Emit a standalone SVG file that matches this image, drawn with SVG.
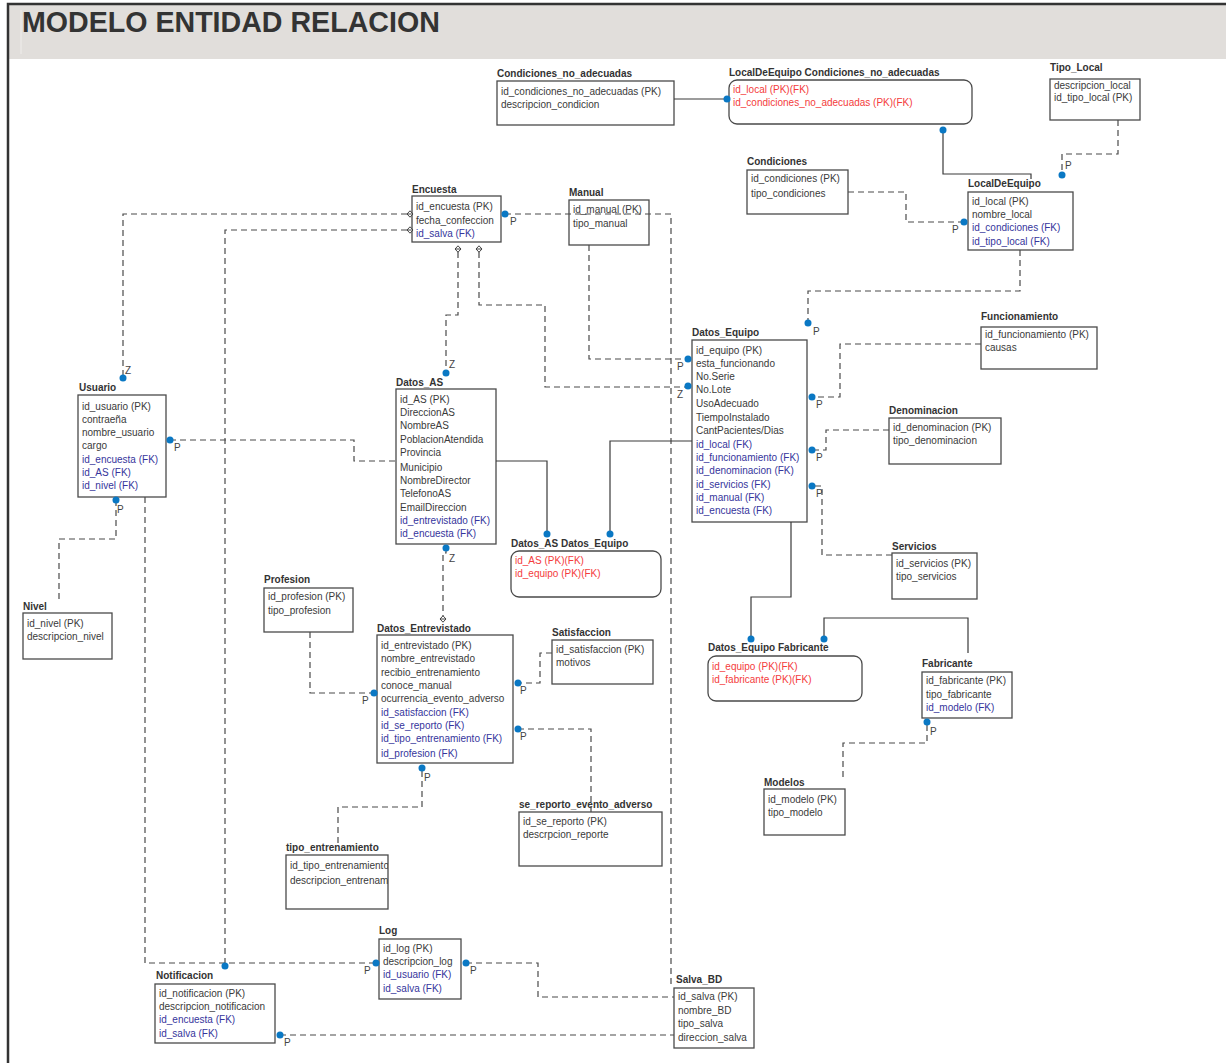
<svg xmlns="http://www.w3.org/2000/svg" width="1226" height="1063" viewBox="0 0 1226 1063">
  <style>
    text { font-family: "Liberation Sans", Arial, sans-serif; font-size: 10px; fill: #3a3a3a; }
    .ttl { font-weight: bold; fill: #333; }
    .fk { fill: #35359c; }
    .pkfk { fill: #f43c3c; }
    .lbl { fill: #444; }
    .box { fill: #fff; stroke: #4a4a4a; stroke-width: 1.3; }
    .dash { fill: none; stroke: #4a4a4a; stroke-width: 1.2; stroke-dasharray: 6 4; }
    .solid { fill: none; stroke: #3a3a3a; stroke-width: 1.2; }
    .dot { fill: #0a78c4; }
    .head { font-size: 28.6px; font-weight: bold; fill: #333; }
  </style>
  <defs>
    <g id="dia"><path d="M0,-3.2 L3,0 L0,3.2 L-3,0Z M-3,0 H3" fill="#fff" stroke="#444" stroke-width="1"/></g>
    <clipPath id="clipTE"><rect x="286" y="855" width="102" height="54"/></clipPath>
  </defs>

  <!-- page background and header band -->
  <rect x="0" y="0" width="1226" height="1063" fill="#fff"/>
  <rect x="8" y="4" width="1218" height="55" fill="#e1dedb"/>
  <line x1="21" y1="10" x2="21" y2="54" stroke="#efedeb" stroke-width="1"/>
  <path d="M8,1063 V4 H1226" fill="none" stroke="#333" stroke-width="2.5"/>
  <text class="head" x="22" y="32">MODELO ENTIDAD RELACION</text>

  <g id="Condiciones_no_adecuadas">
    <text class="ttl" x="497" y="77">Condiciones_no_adecuadas</text>
    <rect class="box" x="497" y="81" width="177" height="44"/>
    <text x="501" y="95">id_condiciones_no_adecuadas (PK)</text>
    <text x="501" y="108">descripcion_condicion</text>
  </g>

  <g id="LocalDeEquipo_Condiciones_no_adecuadas">
    <text class="ttl" x="729" y="76">LocalDeEquipo Condiciones_no_adecuadas</text>
    <rect class="box" x="729" y="80" width="243" height="44" rx="8"/>
    <text class="pkfk" x="733" y="93">id_local (PK)(FK)</text>
    <text class="pkfk" x="733" y="106">id_condiciones_no_adecuadas (PK)(FK)</text>
  </g>

  <g id="Tipo_Local">
    <text class="ttl" x="1050" y="71">Tipo_Local</text>
    <rect class="box" x="1050" y="79" width="90" height="41"/>
    <text x="1054" y="89">descripcion_local</text>
    <text x="1054" y="101">id_tipo_local (PK)</text>
  </g>

  <g id="Condiciones">
    <text class="ttl" x="747" y="165">Condiciones</text>
    <rect class="box" x="747" y="170" width="101" height="44"/>
    <text x="751" y="182">id_condiciones (PK)</text>
    <text x="751" y="197">tipo_condiciones</text>
  </g>

  <g id="LocalDeEquipo">
    <text class="ttl" x="968" y="187">LocalDeEquipo</text>
    <rect class="box" x="968" y="192" width="105" height="58"/>
    <text x="972" y="205">id_local (PK)</text>
    <text x="972" y="218">nombre_local</text>
    <text class="fk" x="972" y="231">id_condiciones (FK)</text>
    <text class="fk" x="972" y="245">id_tipo_local (FK)</text>
  </g>

  <g id="Encuesta">
    <text class="ttl" x="412" y="193">Encuesta</text>
    <rect class="box" x="412" y="196" width="89" height="46"/>
    <text x="416" y="210">id_encuesta (PK)</text>
    <text x="416" y="224">fecha_confeccion</text>
    <text class="fk" x="416" y="237">id_salva (FK)</text>
  </g>

  <g id="Manual">
    <text class="ttl" x="569" y="196">Manual</text>
    <rect class="box" x="569" y="200" width="80" height="45"/>
    <text x="573" y="213">id_manual (PK)</text>
    <text x="573" y="227">tipo_manual</text>
  </g>

  <g id="Usuario">
    <text class="ttl" x="79" y="391">Usuario</text>
    <rect class="box" x="78" y="395" width="88" height="102"/>
    <text x="82" y="410">id_usuario (PK)</text>
    <text x="82" y="423">contraeña</text>
    <text x="82" y="436">nombre_usuario</text>
    <text x="82" y="449">cargo</text>
    <text class="fk" x="82" y="463">id_encuesta (FK)</text>
    <text class="fk" x="82" y="476">id_AS (FK)</text>
    <text class="fk" x="82" y="489">id_nivel (FK)</text>
  </g>

  <g id="Datos_AS">
    <text class="ttl" x="396" y="386">Datos_AS</text>
    <rect class="box" x="396" y="389" width="100" height="155"/>
    <text x="400" y="403">id_AS (PK)</text>
    <text x="400" y="416">DireccionAS</text>
    <text x="400" y="429">NombreAS</text>
    <text x="400" y="443">PoblacionAtendida</text>
    <text x="400" y="456">Provincia</text>
    <text x="400" y="471">Municipio</text>
    <text x="400" y="484">NombreDirector</text>
    <text x="400" y="497">TelefonoAS</text>
    <text x="400" y="511">EmailDireccion</text>
    <text class="fk" x="400" y="524">id_entrevistado (FK)</text>
    <text class="fk" x="400" y="537">id_encuesta (FK)</text>
  </g>

  <g id="Datos_AS_Datos_Equipo">
    <text class="ttl" x="511" y="547">Datos_AS Datos_Equipo</text>
    <rect class="box" x="511" y="551" width="150" height="46" rx="8"/>
    <text class="pkfk" x="515" y="564">id_AS (PK)(FK)</text>
    <text class="pkfk" x="515" y="577">id_equipo (PK)(FK)</text>
  </g>

  <g id="Datos_Equipo">
    <text class="ttl" x="692" y="336">Datos_Equipo</text>
    <rect class="box" x="692" y="340" width="115" height="182"/>
    <text x="696" y="354">id_equipo (PK)</text>
    <text x="696" y="367">esta_funcionando</text>
    <text x="696" y="380">No.Serie</text>
    <text x="696" y="393">No.Lote</text>
    <text x="696" y="407">UsoAdecuado</text>
    <text x="696" y="421">TiempoInstalado</text>
    <text x="696" y="434">CantPacientes/Dias</text>
    <text class="fk" x="696" y="448">id_local (FK)</text>
    <text class="fk" x="696" y="461">id_funcionamiento (FK)</text>
    <text class="fk" x="696" y="474">id_denominacion (FK)</text>
    <text class="fk" x="696" y="488">id_servicios (FK)</text>
    <text class="fk" x="696" y="501">id_manual (FK)</text>
    <text class="fk" x="696" y="514">id_encuesta (FK)</text>
  </g>

  <g id="Funcionamiento">
    <text class="ttl" x="981" y="320">Funcionamiento</text>
    <rect class="box" x="981" y="327" width="116" height="42"/>
    <text x="985" y="338">id_funcionamiento (PK)</text>
    <text x="985" y="351">causas</text>
  </g>

  <g id="Denominacion">
    <text class="ttl" x="889" y="414">Denominacion</text>
    <rect class="box" x="889" y="418" width="112" height="46"/>
    <text x="893" y="431">id_denominacion (PK)</text>
    <text x="893" y="444">tipo_denominacion</text>
  </g>

  <g id="Servicios">
    <text class="ttl" x="892" y="550">Servicios</text>
    <rect class="box" x="892" y="553" width="85" height="46"/>
    <text x="896" y="567">id_servicios (PK)</text>
    <text x="896" y="580">tipo_servicios</text>
  </g>

  <g id="Datos_Equipo_Fabricante">
    <text class="ttl" x="708" y="651">Datos_Equipo Fabricante</text>
    <rect class="box" x="708" y="656" width="154" height="45" rx="8"/>
    <text class="pkfk" x="712" y="670">id_equipo (PK)(FK)</text>
    <text class="pkfk" x="712" y="683">id_fabricante (PK)(FK)</text>
  </g>

  <g id="Fabricante">
    <text class="ttl" x="922" y="667">Fabricante</text>
    <rect class="box" x="922" y="672" width="90" height="46"/>
    <text x="926" y="684">id_fabricante (PK)</text>
    <text x="926" y="698">tipo_fabricante</text>
    <text class="fk" x="926" y="711">id_modelo (FK)</text>
  </g>

  <g id="Modelos">
    <text class="ttl" x="764" y="786">Modelos</text>
    <rect class="box" x="764" y="789" width="81" height="46"/>
    <text x="768" y="803">id_modelo (PK)</text>
    <text x="768" y="816">tipo_modelo</text>
  </g>

  <g id="Nivel">
    <text class="ttl" x="23" y="610">Nivel</text>
    <rect class="box" x="23" y="613" width="89" height="46"/>
    <text x="27" y="627">id_nivel (PK)</text>
    <text x="27" y="640">descripcion_nivel</text>
  </g>

  <g id="Profesion">
    <text class="ttl" x="264" y="583">Profesion</text>
    <rect class="box" x="264" y="588" width="89" height="44"/>
    <text x="268" y="600">id_profesion (PK)</text>
    <text x="268" y="614">tipo_profesion</text>
  </g>

  <g id="Datos_Entrevistado">
    <text class="ttl" x="377" y="632">Datos_Entrevistado</text>
    <rect class="box" x="377" y="635" width="136" height="128"/>
    <text x="381" y="649">id_entrevistado (PK)</text>
    <text x="381" y="662">nombre_entrevistado</text>
    <text x="381" y="676">recibio_entrenamiento</text>
    <text x="381" y="689">conoce_manual</text>
    <text x="381" y="702">ocurrencia_evento_adverso</text>
    <text class="fk" x="381" y="716">id_satisfaccion (FK)</text>
    <text class="fk" x="381" y="729">id_se_reporto (FK)</text>
    <text class="fk" x="381" y="742">id_tipo_entrenamiento (FK)</text>
    <text class="fk" x="381" y="757">id_profesion (FK)</text>
  </g>

  <g id="Satisfaccion">
    <text class="ttl" x="552" y="636">Satisfaccion</text>
    <rect class="box" x="552" y="640" width="101" height="44"/>
    <text x="556" y="653">id_satisfaccion (PK)</text>
    <text x="556" y="666">motivos</text>
  </g>

  <g id="se_reporto_evento_adverso">
    <text class="ttl" x="519" y="808">se_reporto_evento_adverso</text>
    <rect class="box" x="519" y="812" width="143" height="54"/>
    <text x="523" y="825">id_se_reporto (PK)</text>
    <text x="523" y="838">descrpcion_reporte</text>
  </g>

  <g id="tipo_entrenamiento">
    <text class="ttl" x="286" y="851">tipo_entrenamiento</text>
    <rect class="box" x="286" y="855" width="102" height="54"/>
    <g clip-path="url(#clipTE)">
      <text x="290" y="869">id_tipo_entrenamiento</text>
      <text x="290" y="884">descripcion_entrenamiento</text>
    </g>
  </g>

  <g id="Log">
    <text class="ttl" x="379" y="934">Log</text>
    <rect class="box" x="379" y="939" width="82" height="60"/>
    <text x="383" y="952">id_log (PK)</text>
    <text x="383" y="965">descripcion_log</text>
    <text class="fk" x="383" y="978">id_usuario (FK)</text>
    <text class="fk" x="383" y="992">id_salva (FK)</text>
  </g>

  <g id="Notificacion">
    <text class="ttl" x="156" y="979">Notificacion</text>
    <rect class="box" x="155" y="984" width="120" height="59"/>
    <text x="159" y="997">id_notificacion (PK)</text>
    <text x="159" y="1010">descripcion_notificacion</text>
    <text class="fk" x="159" y="1023">id_encuesta (FK)</text>
    <text class="fk" x="159" y="1037">id_salva (FK)</text>
  </g>

  <g id="Salva_BD">
    <text class="ttl" x="676" y="983">Salva_BD</text>
    <rect class="box" x="674" y="988" width="80" height="60"/>
    <text x="678" y="1000">id_salva (PK)</text>
    <text x="678" y="1014">nombre_BD</text>
    <text x="678" y="1027">tipo_salva</text>
    <text x="678" y="1041">direccion_salva</text>
  </g>

  <!-- relationship lines, drawn over the tables -->
  <g id="connectors">
    <path class="solid" d="M674,99 H727"/>
    <path class="solid" d="M943,130 V174 H1031 V179"/>
    <path class="dash" d="M1118,120 V154 H1062 V175"/>
    <path class="dash" d="M848,192 H906 V222 H964"/>
    <path class="dash" d="M1020,250 V291 H808 V323"/>
    <path class="dash" d="M505,214 H671 V985"/>
    <path class="dash" d="M407,214 H123 V378"/>
    <path class="dash" d="M407,230 H225 V966"/>
    <path class="dash" d="M458,252 V315 H446 V373"/>
    <path class="dash" d="M479,252 V305 H545 V387 H688"/>
    <path class="dash" d="M589,245 V359 H688"/>
    <path class="dash" d="M170,440 H354 V461 H396"/>
    <path class="dash" d="M116,500 V539 H59 V600"/>
    <path class="dash" d="M145,497 V963 H376"/>
    <path class="dash" d="M446,548 V553 H443 V616"/>
    <path class="solid" d="M496,461 H547 V534"/>
    <path class="solid" d="M692,441 H610 V534"/>
    <path class="dash" d="M981,344 H840 V397 H812"/>
    <path class="dash" d="M889,430 H826 V450 H812"/>
    <path class="dash" d="M892,555 H822 V486 H812"/>
    <path class="solid" d="M791,522 V597 H751 V639"/>
    <path class="solid" d="M968,653 V618 H824 V639"/>
    <path class="dash" d="M843,777 V743 H927 V722"/>
    <path class="dash" d="M310,632 V693 H374"/>
    <path class="dash" d="M552,653 H540 V683 H518"/>
    <path class="dash" d="M591,812 V729 H518"/>
    <path class="dash" d="M338,843 V807 H422 V768"/>
    <path class="dash" d="M466,963 H538 V997 H674"/>
    <path class="dash" d="M280,1035 H674"/>

    <!-- end markers -->
    <circle class="dot" cx="727" cy="99" r="3.5"/>
    <circle class="dot" cx="943" cy="130" r="3.5"/>
    <circle class="dot" cx="1062" cy="175" r="3.5"/>
    <circle class="dot" cx="964" cy="222" r="3.5"/>
    <circle class="dot" cx="808" cy="323" r="3.5"/>
    <circle class="dot" cx="505" cy="214" r="3.5"/>
    <circle class="dot" cx="123" cy="378" r="3.5"/>
    <circle class="dot" cx="225" cy="966" r="3.5"/>
    <circle class="dot" cx="446" cy="373" r="3.5"/>
    <circle class="dot" cx="688" cy="386" r="3.5"/>
    <circle class="dot" cx="688" cy="359" r="3.5"/>
    <circle class="dot" cx="170" cy="440" r="3.5"/>
    <circle class="dot" cx="116" cy="500" r="3.5"/>
    <circle class="dot" cx="376" cy="963" r="3.5"/>
    <circle class="dot" cx="446" cy="548" r="3.5"/>
    <circle class="dot" cx="547" cy="534" r="3.5"/>
    <circle class="dot" cx="610" cy="534" r="3.5"/>
    <circle class="dot" cx="812" cy="397" r="3.5"/>
    <circle class="dot" cx="812" cy="450" r="3.5"/>
    <circle class="dot" cx="812" cy="486" r="3.5"/>
    <circle class="dot" cx="751" cy="639" r="3.5"/>
    <circle class="dot" cx="824" cy="639" r="3.5"/>
    <circle class="dot" cx="927" cy="722" r="3.5"/>
    <circle class="dot" cx="374" cy="693" r="3.5"/>
    <circle class="dot" cx="518" cy="683" r="3.5"/>
    <circle class="dot" cx="518" cy="729" r="3.5"/>
    <circle class="dot" cx="422" cy="768" r="3.5"/>
    <circle class="dot" cx="466" cy="963" r="3.5"/>
    <circle class="dot" cx="280" cy="1035" r="3.5"/>
    <use href="#dia" x="410" y="214"/>
    <use href="#dia" x="410" y="230"/>
    <use href="#dia" x="458" y="249"/>
    <use href="#dia" x="479" y="249"/>
    <use href="#dia" x="443" y="619"/>

    <!-- cardinality labels -->
    <text class="lbl" x="1065" y="169">P</text>
    <text class="lbl" x="952" y="233">P</text>
    <text class="lbl" x="813" y="335">P</text>
    <text class="lbl" x="510" y="225">P</text>
    <text class="lbl" x="125" y="374">Z</text>
    <text class="lbl" x="449" y="368">Z</text>
    <text class="lbl" x="677" y="398">Z</text>
    <text class="lbl" x="677" y="370">P</text>
    <text class="lbl" x="174" y="451">P</text>
    <text class="lbl" x="117" y="513">P</text>
    <text class="lbl" x="364" y="974">P</text>
    <text class="lbl" x="449" y="562">Z</text>
    <text class="lbl" x="816" y="408">P</text>
    <text class="lbl" x="816" y="461">P</text>
    <text class="lbl" x="816" y="497">P</text>
    <text class="lbl" x="930" y="735">P</text>
    <text class="lbl" x="362" y="704">P</text>
    <text class="lbl" x="520" y="694">P</text>
    <text class="lbl" x="520" y="740">P</text>
    <text class="lbl" x="424" y="781">P</text>
    <text class="lbl" x="470" y="974">P</text>
    <text class="lbl" x="284" y="1046">P</text>
  </g>
</svg>
